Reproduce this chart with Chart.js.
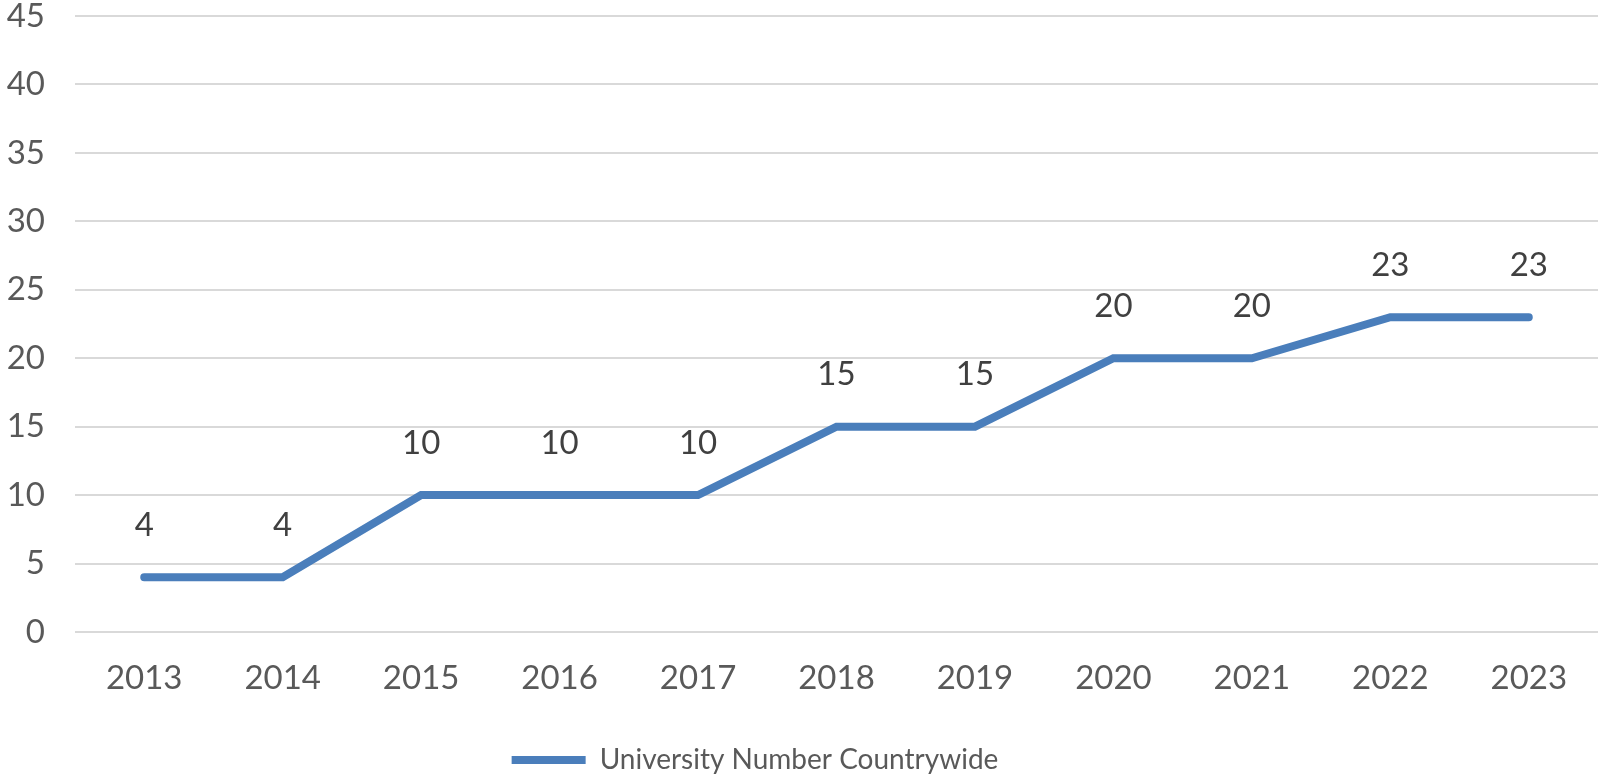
<!DOCTYPE html>
<html>
<head>
<meta charset="utf-8">
<script src="https://cdn.jsdelivr.net/npm/chart.js@4"></script>
<style>
  html, body { margin: 0; padding: 0; background: #fff; }
  #wrap { width: 1601px; height: 784px; }
</style>
</head>
<body>
<div id="wrap"><canvas id="chart"></canvas></div>
<script>
// Data
const years = ["2013", "2014", "2015", "2016", "2017", "2018", "2019", "2020", "2021", "2022", "2023"];
const universities = [4, 4, 10, 10, 10, 15, 15, 20, 20, 23, 23];
const seriesName = "University Number Countrywide";

const FONT = "Lato, 'Open Sans', sans-serif";
const FONT_SIZE = 33;

// draws the value above each point
const valueLabels = {
  id: "valueLabels",
  afterDatasetsDraw(chart) {
    const ctx = chart.ctx;
    const meta = chart.getDatasetMeta(0);
    ctx.save();
    ctx.font = FONT_SIZE + "px " + FONT;
    ctx.fillStyle = "#404040";
    ctx.textAlign = "center";
    ctx.textBaseline = "middle";
    meta.data.forEach((pt, i) => {
      ctx.fillText(universities[i], pt.x, pt.y - 52);
    });
    ctx.restore();
  }
};

// legend sits a bit left of centre in the original
const shiftLegend = {
  id: "shiftLegend",
  afterLayout(chart) {
    chart.legend.left -= 44;
    chart.legend.right -= 44;
  }
};

const ctx = document.getElementById("chart").getContext("2d");

new Chart(ctx, {
  type: "line",
  data: {
    labels: years,
    datasets: [{
      label: seriesName,
      data: universities,
      borderColor: "#4a7ebb",
      backgroundColor: "#4a7ebb",
      borderWidth: 8,
      borderCapStyle: "round",
      borderJoinStyle: "miter",
      pointRadius: 0,
      tension: 0
    }]
  },
  options: {
    responsive: true,
    maintainAspectRatio: false,
    animation: false,
    layout: { padding: { top: 16, right: 3, left: 0, bottom: 0 } },
    plugins: {
      tooltip: { enabled: false },
      legend: {
        position: "bottom",
        labels: {
          usePointStyle: true,
          pointStyle: "line",
          pointStyleWidth: 74,
          boxWidth: 74,
          boxHeight: 8,
          color: "#595959",
          font: { family: FONT, size: 28 },
          padding: 6
        }
      }
    },
    scales: {
      x: {
        offset: true,
        grid: { display: false, drawTicks: false },
        border: { display: false },
        ticks: { color: "#595959", font: { family: FONT, size: FONT_SIZE }, padding: 27 },
        afterFit(scale) { scale.height = 108; }
      },
      y: {
        min: 0,
        max: 45,
        ticks: { stepSize: 5, color: "#595959", font: { family: FONT, size: FONT_SIZE }, padding: 30 },
        grid: { color: "#d9d9d9", lineWidth: 2, drawTicks: false },
        border: { display: false },
        afterFit(scale) {
          scale.width = 75;
          scale.paddingTop = 0;
          scale.paddingBottom = 0;
        }
      }
    }
  },
  plugins: [valueLabels, shiftLegend]
});
</script>
</body>
</html>
